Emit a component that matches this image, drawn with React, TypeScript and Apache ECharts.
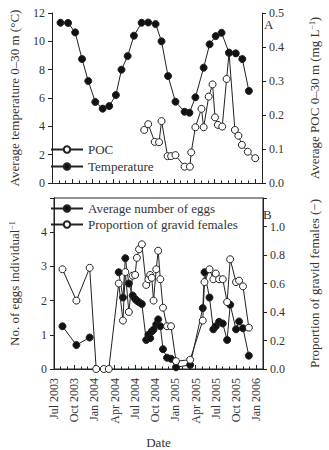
import React, { useEffect, useRef } from "react";
import * as echarts from "echarts";

// Panel A: temperature (left axis) and POC (right axis)
const tempDates = [
  "2003-08-09", "2003-09-12", "2003-10-14", "2003-11-14", "2003-12-12",
  "2004-01-13", "2004-02-15", "2004-03-15", "2004-04-14", "2004-05-09",
  "2004-06-06", "2004-07-04", "2004-08-08", "2004-09-07", "2004-10-10",
  "2004-11-06", "2004-12-05", "2005-01-08", "2005-02-17", "2005-03-10",
  "2005-04-06", "2005-05-13", "2005-06-09", "2005-07-06", "2005-08-02",
  "2005-09-05", "2005-10-05", "2005-11-04", "2005-12-03",
];
const temperature = [
  11.31, 11.3, 10.63, 8.75, 7.2, 5.72, 5.25, 5.43, 6.21, 8.0, 8.96, 10.4,
  11.31, 11.33, 11.22, 10.0, 7.55, 5.74, 5.03, 4.96, 6.05, 8.14, 9.79,
  10.37, 10.6, 9.2, 9.15, 8.75, 6.5,
];

const pocDates = [
  "2004-08-20", "2004-09-07", "2004-10-06", "2004-10-26", "2004-11-06",
  "2004-12-03", "2004-12-19", "2005-01-08", "2005-02-17", "2005-03-12",
  "2005-03-18", "2005-04-06", "2005-05-03", "2005-05-13", "2005-06-05",
  "2005-06-22", "2005-07-03", "2005-07-16", "2005-08-05", "2005-08-25",
  "2005-09-05", "2005-10-01", "2005-10-17", "2005-11-02", "2005-11-28",
  "2006-01-01",
];
const poc = [
  0.156, 0.173, 0.121, 0.12, 0.182, 0.079, 0.079, 0.082, 0.048, 0.048,
  0.09, 0.164, 0.218, 0.164, 0.254, 0.29, 0.193, 0.171, 0.166, 0.306,
  0.383, 0.156, 0.139, 0.112, 0.092, 0.073,
];

// Panel B: eggs per individual (left axis) and gravid proportion (right axis)
const sampleDates = [
  "2003-08-09", "2003-10-11", "2003-12-10", "2004-01-09", "2004-02-12",
  "2004-03-05", "2004-04-19", "2004-05-08", "2004-05-19", "2004-06-04",
  "2004-06-21", "2004-07-02", "2004-07-10", "2004-07-20", "2004-08-02",
  "2004-08-22", "2004-09-01", "2004-09-09", "2004-09-16", "2004-09-24",
  "2004-10-06", "2004-10-15", "2004-10-25", "2004-11-06", "2004-11-24",
  "2004-12-12", "2005-01-04", "2005-03-07", "2005-05-03", "2005-05-11",
  "2005-06-03", "2005-06-20", "2005-07-01", "2005-07-16", "2005-08-02",
  "2005-08-22", "2005-09-05", "2005-10-01", "2005-10-15", "2005-11-02",
  "2005-11-28",
];
const eggs: (number | null)[] = [
  1.25, 0.7, 0.92, null, null, null, 2.83, 2.09, 3.24, 2.5, 2.15, 2.05,
  2.0, 1.95, 1.9, 0.85, 1.0, 0.9, 1.1, 1.15, 1.3, 1.45, 1.25, 0.58, 0.33,
  0.3, 0.05, 0.12, 1.78, 2.83, 2.09, 1.16, 1.25, 1.38, 1.33, 0.85, 1.88,
  1.16, 1.39, 1.19, 0.39,
];
const gravid = [
  0.7, 0.48, 0.71, 0, 0, 0, 0.6, 0.34, 0.68, 0.4, 0.655, 0.66, 0.78, 0.84,
  0.875, 0.59, 0.63, 0.66, 0.64, 0.48, 0.7, 0.83, 0.63, 0.43, 0.3, 0.3,
  0.055, 0.065, 0.34, 0.61, 0.7, 0.63, 0.67, 0.63, 0.63, 0.47, 0.77, 0.61,
  0.62, 0.58, 0.29,
];

const quarterLabels = [
  "Jul 2003", "Oct 2003", "Jan 2004", "Apr 2004", "Jul 2004", "Oct 2004",
  "Jan 2005", "Apr 2005", "Jul 2005", "Oct 2005", "Jan 2006",
];

// Months elapsed since 1 Jul 2003 (fractional), used as the x value.
function toMonth(s: string): number {
  const [y, m, d] = s.split("-").map(Number);
  const days = new Date(y, m, 0).getDate();
  return (y - 2003) * 12 + (m - 7) + (d - 1) / days;
}

const pairs = (xs: string[], ys: (number | null)[]) =>
  xs.map((x, i) => [toMonth(x), ys[i]]);

const FONT = "'Liberation Serif', 'DejaVu Serif', serif";
const INK = "#222";
const TEXT = "#333";

export default function App() {
  const ref = useRef<HTMLDivElement>(null);

  useEffect(() => {
    if (!ref.current) return;
    const chart = echarts.init(ref.current, undefined, { renderer: "svg" });

    const xBase = {
      type: "value" as const,
      min: 0,
      max: 31,
      interval: 3,
      axisLine: { show: true, lineStyle: { color: INK, width: 1 } },
      axisTick: { show: true, inside: true, length: 4, lineStyle: { color: INK } },
      minorTick: { show: true, splitNumber: 3, length: 2.5, lineStyle: { color: INK } },
      splitLine: { show: false },
      minorSplitLine: { show: false },
    };

    const yBase = {
      type: "value" as const,
      axisLine: { show: true, lineStyle: { color: INK, width: 1 } },
      axisTick: { show: true, inside: false, length: 4, lineStyle: { color: INK } },
      splitLine: { show: false },
      nameLocation: "middle" as const,
      nameRotate: 90,
      nameTextStyle: {
        fontFamily: FONT,
        fontSize: 13,
        color: TEXT,
        rich: {
          n: { fontFamily: FONT, fontSize: 13, color: TEXT },
          s: { fontFamily: FONT, fontSize: 8, color: TEXT, verticalAlign: "top" },
        },
      },
    };

    const axisLabel = (fmt: (v: number) => string, margin = 7) => ({
      fontFamily: FONT,
      fontSize: 12,
      color: TEXT,
      margin,
      formatter: fmt,
    });

    const markerSeries = (
      name: string,
      data: any[],
      xi: number,
      yi: number,
      filled: boolean,
      z: number
    ) => ({
      name,
      type: "line",
      xAxisIndex: xi,
      yAxisIndex: yi,
      data,
      connectNulls: false,
      symbol: "circle",
      symbolSize: 7,
      showSymbol: true,
      z,
      lineStyle: { color: INK, width: 1 },
      itemStyle: {
        color: filled ? "#111" : "#fff",
        borderColor: INK,
        borderWidth: 1,
      },
      emphasis: { disabled: true },
    });

    const legendBase = {
      orient: "vertical" as const,
      left: 50,
      padding: 0,
      itemWidth: 32,
      itemHeight: 8,
      itemGap: 4,
      textStyle: { fontFamily: FONT, fontSize: 13, color: TEXT },
      selectedMode: false,
    };

    chart.setOption({
      animation: false,
      backgroundColor: "#fff",
      grid: [
        { left: 43, width: 235, top: 13, height: 170, show: false },
        {
          left: 43,
          width: 235,
          top: 198,
          height: 171,
          show: true,
          borderColor: INK,
          borderWidth: 1,
          backgroundColor: "transparent",
        },
      ],
      xAxis: [
        { ...xBase, gridIndex: 0, axisLabel: { show: false } },
        {
          ...xBase,
          gridIndex: 1,
          axisLabel: {
            fontFamily: FONT,
            fontSize: 12,
            color: TEXT,
            rotate: 90,
            margin: 9,
            formatter: (v: number) =>
              Number.isInteger(v / 3) ? quarterLabels[v / 3] ?? "" : "",
          },
          name: "Date",
          nameLocation: "middle",
          nameGap: 67,
          nameTextStyle: { fontFamily: FONT, fontSize: 13, color: TEXT },
        },
      ],
      yAxis: [
        {
          ...yBase,
          gridIndex: 0,
          position: "left",
          min: 0,
          max: 12,
          interval: 2,
          axisLabel: axisLabel((v) => String(v)),
          name: "Average temperature 0–30 m (°C)",
          nameGap: 31,
        },
        {
          ...yBase,
          gridIndex: 0,
          position: "right",
          min: 0,
          max: 0.5,
          interval: 0.1,
          axisLabel: axisLabel((v) => v.toFixed(1)),
          name: "{n|Average POC 0–30 m (mg L}{s|−1}{n|)}",
          nameGap: 46,
        },
        {
          ...yBase,
          gridIndex: 1,
          position: "left",
          min: 0,
          max: 5,
          interval: 1,
          axisLabel: axisLabel((v) => (v >= 5 ? "" : String(v))),
          name: "{n|No. of eggs individual}{s|−1}",
          nameGap: 33,
        },
        {
          ...yBase,
          gridIndex: 1,
          position: "right",
          min: 0,
          max: 1.2,
          interval: 0.2,
          axisLabel: axisLabel((v) => (v > 1.1 ? "" : v.toFixed(1))),
          name: "Proportion of gravid females (−)",
          nameGap: 45,
        },
      ],
      legend: [
        { ...legendBase, data: ["POC", "Temperature"], top: 143 },
        {
          ...legendBase,
          data: ["Average number of eggs", "Proportion of gravid females"],
          top: 202,
          itemGap: 3,
        },
      ],
      graphic: [
        {
          type: "text",
          left: 264,
          top: 18,
          style: { text: "A", fontFamily: FONT, fontSize: 13, fill: TEXT },
        },
        {
          type: "text",
          left: 263,
          top: 208,
          style: { text: "B", fontFamily: FONT, fontSize: 13, fill: TEXT },
        },
      ],
      series: [
        markerSeries("POC", pairs(pocDates, poc), 0, 1, false, 2),
        markerSeries("Temperature", pairs(tempDates, temperature), 0, 0, true, 3),
        markerSeries("Average number of eggs", pairs(sampleDates, eggs), 1, 2, true, 2),
        markerSeries("Proportion of gravid females", pairs(sampleDates, gravid), 1, 3, false, 3),
      ],
    });

    return () => chart.dispose();
  }, []);

  return (
    <div
      ref={ref}
      style={{ position: "absolute", left: 0, top: 0, width: 329, height: 450 }}
    />
  );
}
